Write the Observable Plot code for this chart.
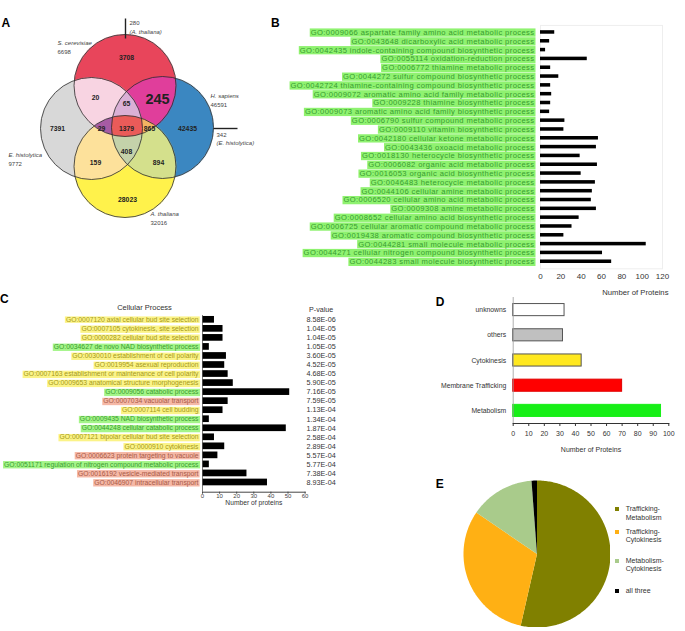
<!DOCTYPE html>
<html><head><meta charset="utf-8">
<script src="https://cdn.jsdelivr.net/npm/d3@7"></script>
<script src="https://cdn.jsdelivr.net/npm/@observablehq/plot@0.6"></script>
<style>
body{margin:0;background:#fff;font-family:"Liberation Sans",Arial,sans-serif;}
#fig{position:relative;width:685px;height:631px;overflow:hidden;background:#fff;}
.letter{position:absolute;font-weight:bold;font-size:12px;line-height:12px;color:#000;}
.leg{position:absolute;font-size:7px;line-height:8.4px;color:#333;}
.sw{position:absolute;width:4px;height:4px;}
</style></head><body><div id="fig"></div>
<script>
// ---------------- DATA ----------------
// Panel A (Venn)
const vennKeys = ["S", "E", "H", "A"];
const vennSpecies = ["S. cerevisiae", "E. histolytica", "H. sapiens", "A. thaliana"];
const vennTotals = [6698, 9772, 46591, 32016];
const vennRegionKeys = ["S", "E", "H", "A", "SE", "SH", "EA", "HA", "SEH", "SEA", "SHA", "EHA", "SEHA"];
const vennRegionCounts = [3708, 7391, 42435, 28023, 20, 245, 159, 894, 65, 29, 865, 408, 1379];
const vennCalloutValues = [280, 342];
const vennCalloutSpecies = ["A. thaliana", "E. histolytica"];

// Panel B
const bLabels = [
  "GO:0009066 aspartate family amino acid metabolic process",
  "GO:0043648 dicarboxylic acid metabolic process",
  "GO:0042435 indole-containing compound biosynthetic process",
  "GO:0055114 oxidation-reduction process",
  "GO:0006772 thiamine metabolic process",
  "GO:0044272 sulfur compound biosynthetic process",
  "GO:0042724 thiamine-containing compound biosynthetic process",
  "GO:0009072 aromatic amino acid family metabolic process",
  "GO:0009228 thiamine biosynthetic process",
  "GO:0009073 aromatic amino acid family biosynthetic process",
  "GO:0006790 sulfur compound metabolic process",
  "GO:0009110 vitamin biosynthetic process",
  "GO:0042180 cellular ketone metabolic process",
  "GO:0043436 oxoacid metabolic process",
  "GO:0018130 heterocycle biosynthetic process",
  "GO:0006082 organic acid metabolic process",
  "GO:0016053 organic acid biosynthetic process",
  "GO:0046483 heterocycle metabolic process",
  "GO:0044106 cellular amine metabolic process",
  "GO:0006520 cellular amino acid metabolic process",
  "GO:0009308 amine metabolic process",
  "GO:0008652 cellular amino acid biosynthetic process",
  "GO:0006725 cellular aromatic compound metabolic process",
  "GO:0019438 aromatic compound biosynthetic process",
  "GO:0044281 small molecule metabolic process",
  "GO:0044271 cellular nitrogen compound biosynthetic process",
  "GO:0044283 small molecule biosynthetic process"
];
const bValues = [14, 9, 5, 46, 10, 18, 10, 11, 10, 9, 24, 23, 57, 55, 39, 56, 40, 54, 51, 50, 55, 38, 31, 23, 104, 61, 70];
const bTicks = [0, 20, 40, 60, 80, 100, 120];

// Panel C
const cLabels = [
  "GO:0007120 axial cellular bud site selection",
  "GO:0007105 cytokinesis, site selection",
  "GO:0000282 cellular bud site selection",
  "GO:0034627 de novo NAD biosynthetic process",
  "GO:0030010 establishment of cell polarity",
  "GO:0019954 asexual reproduction",
  "GO:0007163 establishment or maintenance of cell polarity",
  "GO:0009653 anatomical structure morphogenesis",
  "GO:0009056 catabolic process",
  "GO:0007034 vacuolar transport",
  "GO:0007114 cell budding",
  "GO:0009435 NAD biosynthetic process",
  "GO:0044248 cellular catabolic process",
  "GO:0007121 bipolar cellular bud site selection",
  "GO:0000910 cytokinesis",
  "GO:0006623 protein targeting to vacuole",
  "GO:0051171 regulation of nitrogen compound metabolic process",
  "GO:0016192 vesicle-mediated transport",
  "GO:0046907 intracellular transport"
];
const cValues = [7, 12, 12, 4, 14, 13, 15, 18, 51, 15, 12, 4, 49, 7, 13, 9, 4, 26, 38];
const cPvalues = ["8.58E-06", "1.04E-05", "1.04E-05", "1.05E-05", "3.60E-05", "4.52E-05", "4.68E-05", "5.90E-05", "7.16E-05", "7.59E-05", "1.13E-04", "1.34E-04", "1.87E-04", "2.58E-04", "2.89E-04", "5.57E-04", "5.77E-04", "7.38E-04", "8.93E-04"];
const cGroups = ["Cytokinesis", "Cytokinesis", "Cytokinesis", "Metabolism", "Cytokinesis", "Cytokinesis", "Cytokinesis", "Cytokinesis", "Metabolism", "Trafficking", "Cytokinesis", "Metabolism", "Metabolism", "Cytokinesis", "Cytokinesis", "Trafficking", "Metabolism", "Trafficking", "Trafficking"];
const cTicks = [0, 10, 20, 30, 40, 50, 60];

// Panel D
const dCategories = ["unknowns", "others", "Cytokinesis", "Membrane Trafficking", "Metabolism"];
const dValues = [33, 32, 44, 70, 95];
const dTicks = [0, 10, 20, 30, 40, 50, 60, 70, 80, 90, 100];

// Panel E
const eCategories = ["Trafficking-Metabolism", "Trafficking-Cytokinesis", "Metabolism-Cytokinesis", "all three"];
const eLegendLines = [["Trafficking-", "Metabolism"], ["Trafficking-", "Cytokinesis"], ["Metabolism-", "Cytokinesis"], ["all three"]];
const eValues = [45, 26, 12, 1];

// ---------------- STYLE / LAYOUT ----------------
const FONT = "Liberation Sans, Arial, sans-serif";
const vennLayout = {
  r: 51, width: 270, height: 240,
  centers: {S: [124.5, 85], E: [91, 128], H: [162, 127], A: [124.5, 166]},
  regionPos: {S: [126, 57], E: [57, 128], H: [187, 128], A: [127, 199], SE: [95, 97], SH: [157, 99],
    EA: [95, 162], HA: [158, 162], SEH: [126, 103], SEA: [101, 128], SHA: [149, 128], EHA: [126, 151], SEHA: [126, 128]},
  speciesPos: {S: [57, 43], E: [8, 155], H: [210, 96], A: [150, 214]},
  calloutLines: [[125, 18, 125, 38], [213, 128, 237, 128]],
  calloutText: [[129, 23], [216, 134.5]]
};
const maskColors = ["white", "#e8455b", "#d8d8d8", "#f8d4e2", "#3b87c1", "#e03e9b", "#a8b6cc", "#dab0d6",
  "#fff24b", "#f5a05a", "#fde19b", "#a65ba4", "#d4e08c", "#f3b462", "#c4d2aa", "#ea5b59"];
const bitOf = {S: 1, E: 2, H: 4, A: 8};
const groupText = {Cytokinesis: "#a69a1a", Metabolism: "#3b9c30", Trafficking: "#a85a48"};
const groupBg = {Cytokinesis: "#fbf388", Metabolism: "#a4f589", Trafficking: "#f5b8a6"};
const bText = "#389c30", bBg = "#8ff270";
const dFill = ["#ffffff", "#c0c0c0", "#ffe81f", "#ff0000", "#17ef17"];
const dStroke = ["#555555", "#555555", "#555555", "#e00000", "#17ef17"];
const eColors = ["#808000", "#ffb014", "#a9cb8b", "#000000"];

const fig = document.getElementById("fig");
function place(el, left, top) {
  el.style.position = "absolute"; el.style.left = left + "px"; el.style.top = top + "px";
  fig.appendChild(el); return el;
}
function highlight(svg, bgOf, spacing) {
  const groups = new Map();
  svg.querySelectorAll("text").forEach(t => {
    const bg = bgOf(t.textContent);
    if (!bg) return;
    if (spacing) t.style.letterSpacing = spacing;
    const b = t.getBBox();
    const rect = document.createElementNS("http://www.w3.org/2000/svg", "rect");
    rect.setAttribute("x", b.x - 1);
    rect.setAttribute("y", b.y + b.height * 0.06);
    rect.setAttribute("width", b.width + 2);
    rect.setAttribute("height", b.height * 0.92);
    rect.setAttribute("fill", bg);
    rect.setAttribute("stroke", "none");
    const tr = t.getAttribute("transform");
    if (tr) rect.setAttribute("transform", tr);
    const p = t.parentNode;
    if (!groups.has(p)) groups.set(p, []);
    groups.get(p).push(rect);
  });
  for (const [p, rects] of groups) { const first = p.firstChild; rects.forEach(r => p.insertBefore(r, first)); }
}
function safe(name, fn) { try { fn(); } catch (e) { console.error(name + ": " + e.message); } }

// ---------------- PANEL A ----------------
safe("A", () => {
  const L = vennLayout;
  const circles = vennKeys.map((k) => ({key: k, cx: L.centers[k][0], cy: L.centers[k][1]}));
  const mask = (x, y) => {
    let m = 0;
    for (const c of circles) if ((x - c.cx) ** 2 + (y - c.cy) ** 2 <= L.r * L.r) m |= bitOf[c.key];
    return m;
  };
  const regions = vennRegionKeys.map((k, i) => ({key: k, count: vennRegionCounts[i], x: L.regionPos[k][0], y: L.regionPos[k][1]}));
  const species = vennKeys.map((k, i) => ({name: vennSpecies[i], total: vennTotals[i], x: L.speciesPos[k][0], y: L.speciesPos[k][1]}));
  const callouts = vennCalloutValues.map((v, i) => ({value: v, species: vennCalloutSpecies[i],
    x1: L.calloutLines[i][0], y1: L.calloutLines[i][1], x2: L.calloutLines[i][2], y2: L.calloutLines[i][3],
    tx: L.calloutText[i][0], ty: L.calloutText[i][1]}));
  const svg = Plot.plot({
    width: L.width, height: L.height, margin: 0,
    x: {domain: [0, L.width], range: [0, L.width], axis: null},
    y: {domain: [0, L.height], range: [0, L.height], axis: null},
    color: {type: "ordinal", domain: d3.range(16), range: maskColors},
    style: {fontFamily: FONT, background: "transparent"},
    marks: [
      Plot.raster({fill: (x, y) => mask(x, y), x1: 0, y1: 0, x2: L.width, y2: L.height, width: L.width * 2, height: L.height * 2}),
      Plot.dot(circles, {x: "cx", y: "cy", r: L.r, stroke: "#2a2a2a", strokeWidth: 0.8, fill: "none"}),
      Plot.link(callouts, {x1: "x1", y1: "y1", x2: "x2", y2: "y2", stroke: "#222", strokeWidth: 1.4}),
      Plot.text(regions.filter(d => d.key !== "SH"), {x: "x", y: "y", text: d => String(d.count), fontSize: 6.8, fontWeight: "bold", fill: "#222"}),
      Plot.text(regions.filter(d => d.key === "SH"), {x: "x", y: "y", text: d => String(d.count), fontSize: 14.5, fontWeight: "bold", fill: "#222"}),
      Plot.text(species, {x: "x", y: "y", text: "name", textAnchor: "start", fontSize: 6, fontStyle: "italic", fill: "#444"}),
      Plot.text(species, {x: "x", y: "y", dy: 8.5, text: d => String(d.total), textAnchor: "start", fontSize: 6, fill: "#444"}),
      Plot.text(callouts, {x: "tx", y: "ty", text: d => String(d.value), textAnchor: "start", fontSize: 6, fill: "#444"}),
      Plot.text(callouts, {x: "tx", y: "ty", dy: 8.5, text: d => "(" + d.species + ")", textAnchor: "start", fontSize: 6, fontStyle: "italic", fill: "#444"})
    ]
  });
  place(svg, 0, 0);
});

// ---------------- PANEL B ----------------
safe("B", () => {
  const data = bLabels.map((l, i) => ({label: l, value: bValues[i]}));
  const svg = Plot.plot({
    width: 415, height: 300, marginLeft: 270, marginRight: 23, marginTop: 24.9, marginBottom: 31.7,
    x: {domain: [0, 120], ticks: bTicks, tickSize: 0, tickPadding: 5, label: null},
    y: {domain: bLabels, padding: 0.6, round: false, axis: null},
    style: {fontFamily: FONT, fontSize: "8px", color: "#333", background: "transparent"},
    marks: [
      Plot.frame({stroke: "#eeeeee"}),
      Plot.barX(data, {x: "value", y: "label", fill: "black"}),
      Plot.text(data, {y: "label", text: "label", frameAnchor: "left", dx: -6, textAnchor: "end", lineAnchor: "middle", fontSize: 7.6, fill: bText}),
      Plot.text(["Number of Proteins"], {text: d => d, frameAnchor: "bottom-right", dx: 6, dy: 24, textAnchor: "end", lineAnchor: "middle", fontSize: 7.7, fill: "#333"})
    ]
  });
  place(svg, 270, 0);
  highlight(svg, t => bLabels.includes(t) ? bBg : null, "0.4px");
});

// ---------------- PANEL C ----------------
safe("C", () => {
  const data = cLabels.map((l, i) => ({label: l, value: cValues[i], p: cPvalues[i], group: cGroups[i]}));
  const svg = Plot.plot({
    width: 340, height: 220, marginLeft: 202, marginRight: 35.4, marginTop: 20, marginBottom: 23.3,
    x: {domain: [0, 60], ticks: cTicks, tickSize: 2, tickPadding: -0.5, line: true, label: null},
    y: {domain: cLabels, range: [19.8, 191.5], paddingInner: 0.26, paddingOuter: 0.13, round: false, axis: null},
    style: {fontFamily: FONT, fontSize: "6px", color: "#444", background: "transparent"},
    marks: [
      Plot.barX(data, {x: "value", y: "label", fill: "black"}),
      Plot.ruleX([0], {stroke: "#555", strokeWidth: 0.8}),
      Plot.text(data, {y: "label", text: "label", frameAnchor: "left", dx: -4, textAnchor: "end", lineAnchor: "middle", fontSize: 6.8, fill: d => groupText[d.group]}),
      Plot.text(data, {y: "label", text: "p", frameAnchor: "right", dx: 16, textAnchor: "middle", lineAnchor: "middle", fontSize: 7.2, fill: "#333"}),
      Plot.text(["P-value"], {text: d => d, frameAnchor: "top-right", dx: 16, dy: -5.7, textAnchor: "middle", lineAnchor: "middle", fontSize: 7.1, fill: "#333"}),
      Plot.text(["Cellular Process"], {text: d => d, frameAnchor: "top-left", dx: -58, dy: -8, textAnchor: "middle", lineAnchor: "middle", fontSize: 7.5, fill: "#333"}),
      Plot.text(["Number of proteins"], {text: d => d, frameAnchor: "bottom", dy: 10.5, textAnchor: "middle", lineAnchor: "middle", fontSize: 6.7, fill: "#333"})
    ]
  });
  place(svg, 0, 295);
  const gOf = new Map(cLabels.map((l, i) => [l, cGroups[i]]));
  highlight(svg, t => gOf.has(t) ? groupBg[gOf.get(t)] : null);
});

// ---------------- PANEL D ----------------
safe("D", () => {
  const data = dCategories.map((c, i) => ({cat: c, value: dValues[i], fill: dFill[i], stroke: dStroke[i]}));
  const svg = Plot.plot({
    width: 345, height: 170, marginLeft: 172.7, marginRight: 16.7, marginTop: 2, marginBottom: 42,
    x: {domain: [0, 100], ticks: dTicks, tickSize: 3, tickPadding: 4.5, line: true, label: null},
    y: {domain: dCategories, paddingInner: 0.52, paddingOuter: 0.26, round: false, axis: null},
    style: {fontFamily: FONT, fontSize: "7px", color: "#333", background: "transparent"},
    marks: [
      Plot.barX(data, {x: "value", y: "cat", fill: "fill", stroke: "stroke", strokeWidth: 1}),
      Plot.ruleX([0], {stroke: "#999", strokeWidth: 0.8}),
      Plot.text(data, {y: "cat", text: "cat", frameAnchor: "left", dx: -7, textAnchor: "end", lineAnchor: "middle", fontSize: 6.8, fill: "#333"}),
      Plot.text(["Number of Proteins"], {text: d => d, frameAnchor: "bottom", dy: 26, textAnchor: "middle", lineAnchor: "middle", fontSize: 7, fill: "#333"})
    ]
  });
  place(svg, 340, 295);
});

// ---------------- PANEL E ----------------
safe("E", () => {
  const data = eCategories.map((c, i) => ({cat: c, value: eValues[i], color: eColors[i]}));
  const arcs = d3.pie().sort(null).value(d => d.value)(data);
  const features = arcs.map(a => {
    const n = Math.max(2, Math.ceil((a.endAngle - a.startAngle) * 180 / Math.PI));
    const ring = [[0, 0]];
    for (let k = 0; k <= n; ++k) {
      const t = a.startAngle + (a.endAngle - a.startAngle) * k / n;
      ring.push([Math.sin(t), -Math.cos(t)]);
    }
    ring.push([0, 0]);
    return {type: "Feature", properties: {cat: a.data.cat, color: a.data.color}, geometry: {type: "Polygon", coordinates: [ring]}};
  });
  const svg = Plot.plot({
    width: 147, height: 147, margin: 0,
    projection: {type: "identity", domain: {type: "MultiPoint", coordinates: [[-1, -1], [1, 1]]}},
    style: {background: "transparent"},
    marks: [Plot.geo(features, {fill: d => d.properties.color})]
  });
  place(svg, 462.5, 479.8);
});
safe("E legend", () => {
  const legTops = [505.1, 527.8, 556.5, 586.5];
  eLegendLines.forEach((lines, i) => {
    const sw = document.createElement("div"); sw.className = "sw"; sw.style.background = eColors[i];
    place(sw, 615.3, legTops[i] + 2.3);
    const tx = document.createElement("div"); tx.className = "leg"; tx.innerHTML = lines.join("<br>");
    place(tx, 625.7, legTops[i]);
  });
});

// ---------------- PANEL LETTERS ----------------
[["A", 1.5, 16.7], ["B", 271, 16.7], ["C", 0, 292.5], ["D", 435.7, 296.1], ["E", 435.7, 478.4]].forEach(([t, x, y]) => {
  const d = document.createElement("div"); d.className = "letter"; d.textContent = t; place(d, x, y);
});
</script></body></html>
